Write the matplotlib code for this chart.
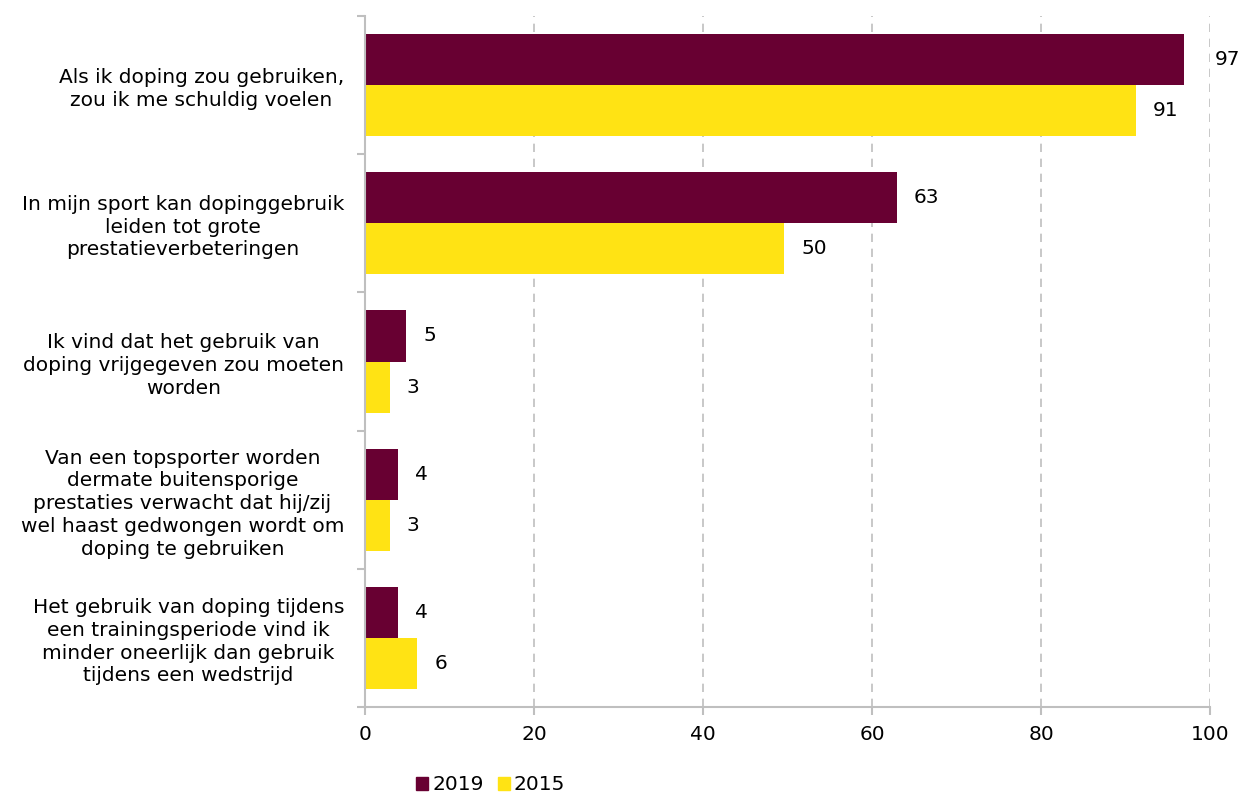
import numpy as np
import matplotlib.pyplot as plt
from matplotlib.patches import Patch

# categorieën en waarden
categories = [
    "Als ik doping zou gebruiken,\nzou ik me schuldig voelen",
    "In mijn sport kan dopinggebruik\nleiden tot grote\nprestatieverbeteringen",
    "Ik vind dat het gebruik van\ndoping vrijgegeven zou moeten\nworden",
    "Van een topsporter worden\ndermate buitensporige\nprestaties verwacht dat hij/zij\nwel haast gedwongen wordt om\ndoping te gebruiken",
    "Het gebruik van doping tijdens\neen trainingsperiode vind ik\nminder oneerlijk dan gebruik\ntijdens een wedstrijd",
]
values_2019 = [96.9, 62.9, 4.9, 3.9, 3.9]
values_2015 = [91.2, 49.6, 2.9, 2.9, 6.2]
labels_2019 = ["97", "63", "5", "4", "4"]
labels_2015 = ["91", "50", "3", "3", "6"]
xticks = [0, 20, 40, 60, 80, 100]

c2019 = "#680032"
c2015 = "#FFE314"
grey = "#BFBFBF"
fs = 14.5

fig = plt.figure(figsize=(12.42, 7.92), dpi=100)
ax = fig.add_axes([0.2939, 0.1073, 0.6804, 0.8725])

y = np.arange(len(categories))
h = 0.37
ax.barh(y - h / 2, values_2019, height=h, color=c2019)
ax.barh(y + h / 2, values_2015, height=h, color=c2015)

# datalabels
for i in range(len(categories)):
    x1 = values_2019[i]
    off1 = 17 if x1 < 95 else 31
    ax.annotate(labels_2019[i], (x1, y[i] - h / 2), xytext=(off1, 0),
                textcoords="offset pixels", va="center", ha="left", fontsize=fs)
    ax.annotate(labels_2015[i], (values_2015[i], y[i] + h / 2), xytext=(17, 0),
                textcoords="offset pixels", va="center", ha="left", fontsize=fs)

ax.set_xlim(0, 100)
ax.set_ylim(len(categories) - 0.5, -0.5)
ax.set_xticks(xticks)
ax.set_xticklabels([str(t) for t in xticks], fontsize=fs)

# categorie-grenzen als major ticks, labels op minor ticks
ax.set_yticks(np.arange(-0.5, len(categories), 1.0))
ax.set_yticklabels([])
ax.set_yticks(y, minor=True)
ax.set_yticklabels(categories, minor=True, fontsize=fs)
for t in ax.get_yticklabels(minor=True):
    t.set_multialignment("center")
    t.set_linespacing(1.25)
ax.tick_params(axis="y", which="minor", length=0, pad=15)
ax.tick_params(axis="y", which="major", length=6, color=grey, width=1.5)
ax.tick_params(axis="x", length=6, color=grey, width=1.5, pad=7)

for s in ["top", "right"]:
    ax.spines[s].set_visible(False)
for s in ["left", "bottom"]:
    ax.spines[s].set_color(grey)
    ax.spines[s].set_linewidth(1.5)

ax.grid(axis="x", color=grey, linestyle=(0, (5, 4)), linewidth=1.2)
ax.set_axisbelow(True)

handles = [Patch(color=c2019, label="2019"), Patch(color=c2015, label="2015")]
fig.legend(handles=handles, loc="center", bbox_to_anchor=(0.395, 0.009), ncol=2,
           frameon=False, fontsize=fs, handlelength=0.6, handleheight=0.6,
           handletextpad=0.2, columnspacing=0.7)

fig.savefig("out.png", dpi=100)
